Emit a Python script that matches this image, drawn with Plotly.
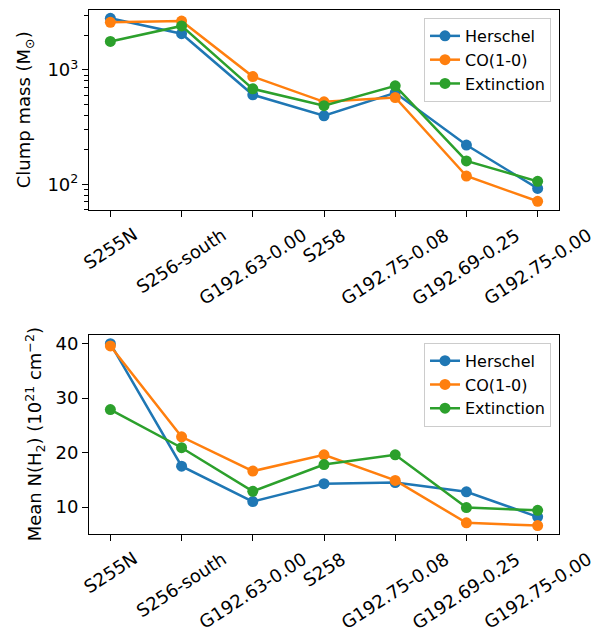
import plotly.graph_objects as go
from plotly.subplots import make_subplots

categories = ["S255N", "S256-south", "G192.63-0.00", "S258",
              "G192.75-0.08", "G192.69-0.25", "G192.75-0.00"]

mass_herschel = [2820, 2070, 605, 397, 630, 220, 92]
mass_co = [2600, 2670, 874, 525, 573, 118, 71]
mass_ext = [1770, 2420, 682, 486, 725, 160, 106]

nh2_herschel = [40.0, 17.5, 11.0, 14.3, 14.5, 12.8, 8.2]
nh2_co = [39.6, 22.9, 16.6, 19.6, 14.9, 7.1, 6.6]
nh2_ext = [27.9, 20.9, 12.9, 17.8, 19.6, 9.9, 9.4]

series_names = ["Herschel", "CO(1-0)", "Extinction"]
colors = ["#1f77b4", "#ff7f0e", "#2ca02c"]

# the page body has an 8px margin, so the figure is drawn 8px in from the corner
W, H = 595, 627
L, R, T, B = 81, 44, 0, 101
PH = H - T - B  # 526
fig = make_subplots(rows=2, cols=1, vertical_spacing=0.0)

top_dom = [1 - 201 / PH, 1.0]
bot_dom = [0.0, 200 / PH]

for vals, name, c in zip([mass_herschel, mass_co, mass_ext], series_names, colors):
    fig.add_trace(go.Scatter(x=categories, y=vals, name=name, mode="lines+markers",
                             line=dict(color=c, width=2.5), marker=dict(color=c, size=11),
                             legend="legend", cliponaxis=False), row=1, col=1)
for vals, name, c in zip([nh2_herschel, nh2_co, nh2_ext], series_names, colors):
    fig.add_trace(go.Scatter(x=categories, y=vals, name=name, mode="lines+markers",
                             line=dict(color=c, width=2.5), marker=dict(color=c, size=11),
                             legend="legend2", cliponaxis=False), row=2, col=1)

axis_common = dict(showline=True, linecolor="black", linewidth=1.1, mirror=True,
                   ticks="outside", ticklen=6, tickwidth=1.1, tickcolor="black",
                   showgrid=False, zeroline=False,
                   tickfont=dict(size=18, color="black", family="DejaVu Sans"))

fig.update_xaxes(**axis_common, range=[-0.3, 6.3], showticklabels=False)
fig.update_yaxes(**axis_common)
fig.update_layout(
    yaxis=dict(domain=top_dom, type="log", range=[1.773, 3.523],
               tickvals=[100, 1000], ticktext=["10<sup>2</sup>", "10<sup>3</sup>"],
               minor=dict(ticks="outside", ticklen=3.5, tickwidth=1, tickcolor="black",
                          tickvals=[60, 70, 80, 90, 200, 300, 400, 500, 600, 700, 800,
                                    900, 2000, 3000])),
    yaxis2=dict(domain=bot_dom, range=[5.05, 41.65], tickvals=[10, 20, 30, 40]),
)

annotations = []
for dom, xref in [(top_dom, "x"), (bot_dom, "x2")]:
    for cat in categories:
        annotations.append(dict(x=cat, xref=xref, y=dom[0], yref="paper",
                                text=cat, showarrow=False, textangle=-33,
                                xanchor="center", yanchor="top", yshift=-11,
                                font=dict(size=18, color="black", family="DejaVu Sans")))

annotations.append(dict(x=-0.136, xref="paper", y=(top_dom[0] + top_dom[1]) / 2, yref="paper",
                        text="Clump mass (M<sub>⊙</sub>)", textangle=-90, showarrow=False,
                        xanchor="center", yanchor="middle",
                        font=dict(size=18, color="black", family="DejaVu Sans")))
annotations.append(dict(x=-0.115, xref="paper", y=(bot_dom[0] + bot_dom[1]) / 2, yref="paper",
                        text="Mean N(H<sub>2</sub>) (10<sup>21</sup> cm<sup>−2</sup>)",
                        textangle=-90, showarrow=False,
                        xanchor="center", yanchor="middle",
                        font=dict(size=18, color="black", family="DejaVu Sans")))

legend_style = dict(bgcolor="rgba(255,255,255,0.8)", bordercolor="#cccccc", borderwidth=1,
                    font=dict(size=16, color="black", family="DejaVu Sans"),
                    xanchor="right", yanchor="top", x=0.983, tracegroupgap=0)

fig.update_layout(
    width=W, height=H,
    margin=dict(l=L, r=R, t=T, b=B),
    paper_bgcolor="white", plot_bgcolor="white",
    font=dict(family="DejaVu Sans", color="black"),
    legend=dict(**legend_style, y=1 - 8 / PH),
    legend2=dict(**legend_style, y=(200 - 8) / PH),
    annotations=annotations,
    showlegend=True,
)

fig.write_html("out.html")
